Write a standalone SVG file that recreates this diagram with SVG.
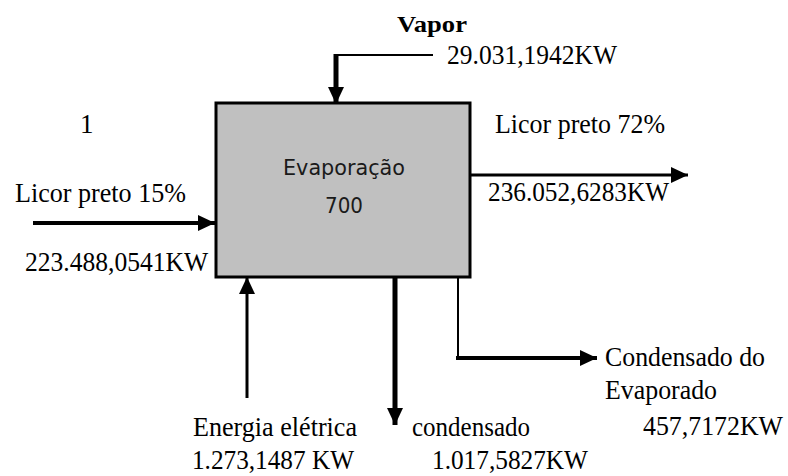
<svg xmlns="http://www.w3.org/2000/svg" width="788" height="476" viewBox="0 0 788 476">
<style>
.t{font-family:"Liberation Serif","Times New Roman",serif;font-size:27px;fill:#000}
.b{font-weight:bold;font-size:24px}
.s{font-family:"DejaVu Sans","Verdana",sans-serif;font-size:22px;fill:#1a1a1a}
.ln{stroke:#000;fill:none}
</style>
<defs>
<marker id="ah" markerUnits="userSpaceOnUse" markerWidth="18" markerHeight="16" refX="17" refY="8" orient="auto">
<path d="M0,0 L17,8 L0,16 z" fill="#000"/>
</marker>
</defs>
<rect width="788" height="476" fill="#fff"/>
<g id="connectors">
<line class="ln" x1="336" y1="55" x2="433" y2="55" stroke-width="2"/>
<line class="ln" x1="336" y1="54" x2="336" y2="104" stroke-width="5" marker-end="url(#ah)"/>
<line class="ln" x1="33" y1="223" x2="215" y2="223" stroke-width="4" marker-end="url(#ah)"/>
<line class="ln" x1="470" y1="175" x2="688" y2="175" stroke-width="3" marker-end="url(#ah)"/>
<line class="ln" x1="247" y1="398" x2="247" y2="277" stroke-width="3" marker-end="url(#ah)"/>
<line class="ln" x1="395" y1="277" x2="395" y2="425" stroke-width="5" marker-end="url(#ah)"/>
<polyline class="ln" points="458,277 458,358" stroke-width="2"/>
<line class="ln" x1="456" y1="358" x2="597" y2="358" stroke-width="4" marker-end="url(#ah)"/>
</g>
<g id="evaporacao">
<rect x="216" y="103" width="254" height="174" fill="#c0c0c0" stroke="#000" stroke-width="3"/>
<text class="s" x="283" y="175" textLength="122" lengthAdjust="spacingAndGlyphs">Evaporação</text>
<text class="s" x="325" y="213" textLength="38" lengthAdjust="spacingAndGlyphs">700</text>
</g>
<g id="labels">
<text class="t b" x="397" y="32" textLength="70" lengthAdjust="spacingAndGlyphs">Vapor</text>
<text class="t" x="447" y="64" textLength="170" lengthAdjust="spacingAndGlyphs">29.031,1942KW</text>
<text class="t" x="80" y="133">1</text>
<text class="t" x="495" y="133" textLength="170" lengthAdjust="spacingAndGlyphs">Licor preto 72%</text>
<text class="t" x="15" y="202" textLength="171" lengthAdjust="spacingAndGlyphs">Licor preto 15%</text>
<text class="t" x="25" y="271" textLength="183" lengthAdjust="spacingAndGlyphs">223.488,0541KW</text>
<text class="t" x="488" y="201" textLength="181" lengthAdjust="spacingAndGlyphs">236.052,6283KW</text>
<text class="t" x="605" y="366" textLength="160" lengthAdjust="spacingAndGlyphs">Condensado do</text>
<text class="t" x="605" y="399" textLength="112" lengthAdjust="spacingAndGlyphs">Evaporado</text>
<text class="t" x="643" y="435" textLength="140" lengthAdjust="spacingAndGlyphs">457,7172KW</text>
<text class="t" x="193" y="436" textLength="164" lengthAdjust="spacingAndGlyphs">Energia elétrica</text>
<text class="t" x="192" y="469" textLength="162" lengthAdjust="spacingAndGlyphs">1.273,1487 KW</text>
<text class="t" x="412" y="436" textLength="118" lengthAdjust="spacingAndGlyphs">condensado</text>
<text class="t" x="432" y="469" textLength="156" lengthAdjust="spacingAndGlyphs">1.017,5827KW</text>
</g>
</svg>
